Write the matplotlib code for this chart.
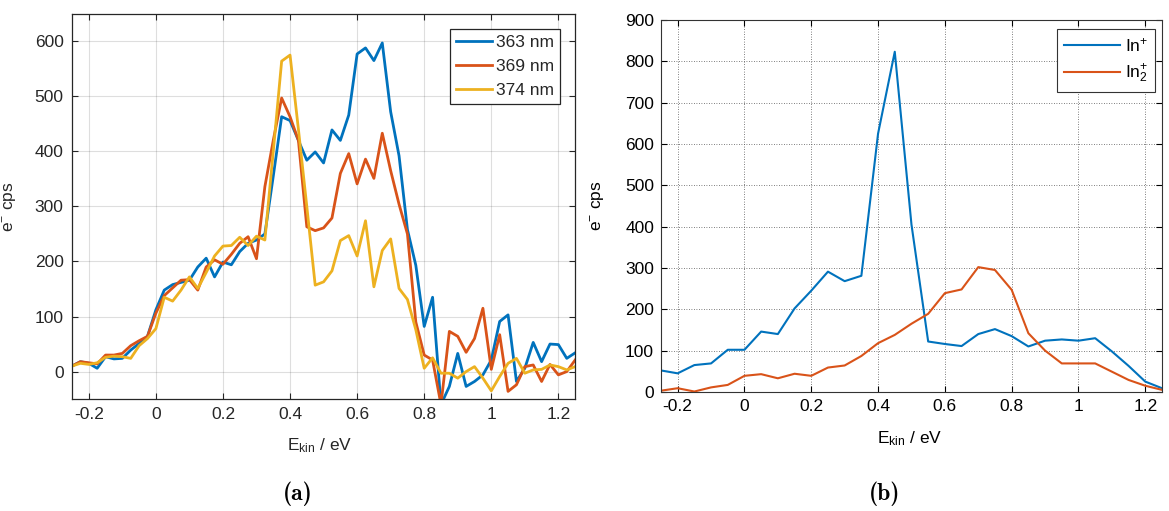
import matplotlib
matplotlib.use('Agg')
import matplotlib.pyplot as plt
import numpy as np
from matplotlib.font_manager import FontProperties

plt.rcParams['font.family'] = ['Liberation Sans', 'DejaVu Sans']
plt.rcParams['mathtext.default'] = 'regular'

# kinetic energy grids
e_kin_a = np.round(np.arange(-0.25, 1.2501, 0.025), 3)
e_kin_b = np.round(np.arange(-0.25, 1.2501, 0.05), 3)

# (a) photoelectron spectra at three wavelengths
wavelength_labels = ['363 nm', '369 nm', '374 nm']
cps_363 = [10, 18, 15, 6, 27, 23, 24, 39, 51, 64,
           112, 148, 158, 162, 166, 190, 206, 172, 199, 194,
           218, 233, 239, 250, 355, 463, 456, 420, 384, 399,
           379, 439, 420, 466, 577, 588, 565, 597, 472, 392,
           258, 193, 82, 135, -60, -27, 33, -27, -18, -6,
           21, 91, 103, -18, 6, 53, 18, 50, 49, 24, 34]
cps_369 = [10, 18, 16, 14, 30, 30, 33, 47, 56, 64,
           106, 138, 152, 166, 167, 148, 190, 203, 195, 213,
           233, 245, 205, 336, 420, 497, 463, 420, 263, 256,
           261, 279, 360, 396, 341, 386, 351, 433, 365, 304,
           250, 90, 30, 21, -60, 73, 64, 35, 60, 115,
           4, 67, -36, -24, 9, 12, -18, 13, -6, 0, 21]
cps_374 = [10, 15, 13, 16, 26, 28, 27, 24, 47, 60,
           78, 135, 128, 148, 172, 151, 180, 210, 228, 229,
           244, 229, 246, 239, 400, 564, 575, 440, 300, 157,
           163, 183, 238, 247, 210, 274, 154, 220, 241, 151,
           131, 76, 6, 25, -3, -3, -12, 0, 9, -12,
           -35, -9, 15, 24, -3, 3, 4, 12, 9, 3, 9]

# (b) In+ and In2+ channels
ion_labels = ['In$^{+}$', 'In$_{2}^{+}$']
cps_in = [52, 45, 65, 69, 102, 102, 146, 140, 202, 245,
          291, 268, 281, 625, 823, 405, 122, 116, 111, 140,
          152, 135, 110, 124, 127, 124, 130, 98, 63, 25, 9]
cps_in2 = [3, 9, 1, 11, 17, 39, 43, 33, 44, 39,
           59, 64, 87, 118, 138, 165, 189, 239, 248, 302,
           295, 247, 142, 100, 69, 69, 69, 49, 29, 15, 5]

x_ticks = [-0.2, 0, 0.2, 0.4, 0.6, 0.8, 1, 1.2]
x_tick_labels = ['-0.2', '0', '0.2', '0.4', '0.6', '0.8', '1', '1.2']

matlab_colors = ['#0072BD', '#D95319', '#EDB120']
axis_gray = '#262626'

fig = plt.figure(figsize=(11.69, 5.11), dpi=100)
ax_a = fig.add_axes([0.0616, 0.219, 0.4304, 0.754])
ax_b = fig.add_axes([0.5654, 0.233, 0.4286, 0.728])

# left panel: newer MATLAB look
for y, label, c in zip([cps_363, cps_369, cps_374], wavelength_labels, matlab_colors):
    ax_a.plot(e_kin_a, y, color=c, lw=2.0, label=label)
ax_a.set_xlim(-0.25, 1.25)
ax_a.set_ylim(-50, 650)
ax_a.set_xticks(x_ticks)
ax_a.set_xticklabels(x_tick_labels)
ax_a.set_yticks(range(0, 601, 100))
ax_a.grid(True, color=axis_gray, alpha=0.15, lw=0.8)
ax_a.tick_params(direction='in', length=4, width=0.8, top=True, right=True,
                 labelsize=12.5, colors=axis_gray, pad=6)
for sp in ax_a.spines.values():
    sp.set_color(axis_gray)
    sp.set_linewidth(0.9)
ax_a.set_ylabel('e$^{-}$ cps', fontsize=12.5, color=axis_gray)
ax_a.set_xlabel('E$_{kin}$ / eV', fontsize=12.5, color=axis_gray)
ax_a.yaxis.set_label_coords(-0.105, 0.5)
ax_a.xaxis.set_label_coords(0.493, -0.097)
leg_a = ax_a.legend(loc='upper right', bbox_to_anchor=(0.97, 0.96), borderaxespad=0,
                    fontsize=12.5, handlelength=2.1, handletextpad=0.2,
                    labelspacing=0.5, borderpad=0.35, fancybox=False, framealpha=1)
leg_a.get_frame().set_edgecolor(axis_gray)
leg_a.get_frame().set_linewidth(0.9)
for t in leg_a.get_texts():
    t.set_color(axis_gray)

# right panel: older MATLAB look with dotted grid
for y, label, c in zip([cps_in, cps_in2], ion_labels, matlab_colors):
    ax_b.plot(e_kin_b, y, color=c, lw=1.5, label=label)
ax_b.set_xlim(-0.25, 1.25)
ax_b.set_ylim(0, 900)
ax_b.set_xticks(x_ticks)
ax_b.set_xticklabels(x_tick_labels)
ax_b.set_yticks(range(0, 901, 100))
ax_b.grid(True, color='#555555', ls=(0, (1, 2)), lw=0.6)
ax_b.tick_params(direction='in', length=4, width=0.8, top=True, right=True,
                 labelsize=12.5, colors='black', pad=5)
for sp in ax_b.spines.values():
    sp.set_color('#333333')
    sp.set_linewidth(0.8)
ax_b.set_ylabel('e$^{-}$ cps', fontsize=12.5)
ax_b.set_xlabel('E$_{kin}$ / eV', fontsize=12.5)
ax_b.yaxis.set_label_coords(-0.108, 0.5)
ax_b.xaxis.set_label_coords(0.497, -0.1)
leg_b = ax_b.legend(loc='upper right', bbox_to_anchor=(0.986, 0.975), borderaxespad=0,
                    fontsize=12.5, handlelength=3.2, handletextpad=0.3,
                    labelspacing=0.5, borderpad=0.4, fancybox=False, framealpha=1)
leg_b.get_frame().set_edgecolor('#333333')
leg_b.get_frame().set_linewidth(0.8)

# sub-figure captions in Computer Modern bold
cm_bold = FontProperties(fname=matplotlib.get_data_path() + '/fonts/ttf/cmb10.ttf', size=17)
fig.text(298 / 1169, 1 - 494 / 511, '(a)', fontproperties=cm_bold, ha='center', va='center')
fig.text(885 / 1169, 1 - 494 / 511, '(b)', fontproperties=cm_bold, ha='center', va='center')

fig.savefig('out.png', dpi=100)
